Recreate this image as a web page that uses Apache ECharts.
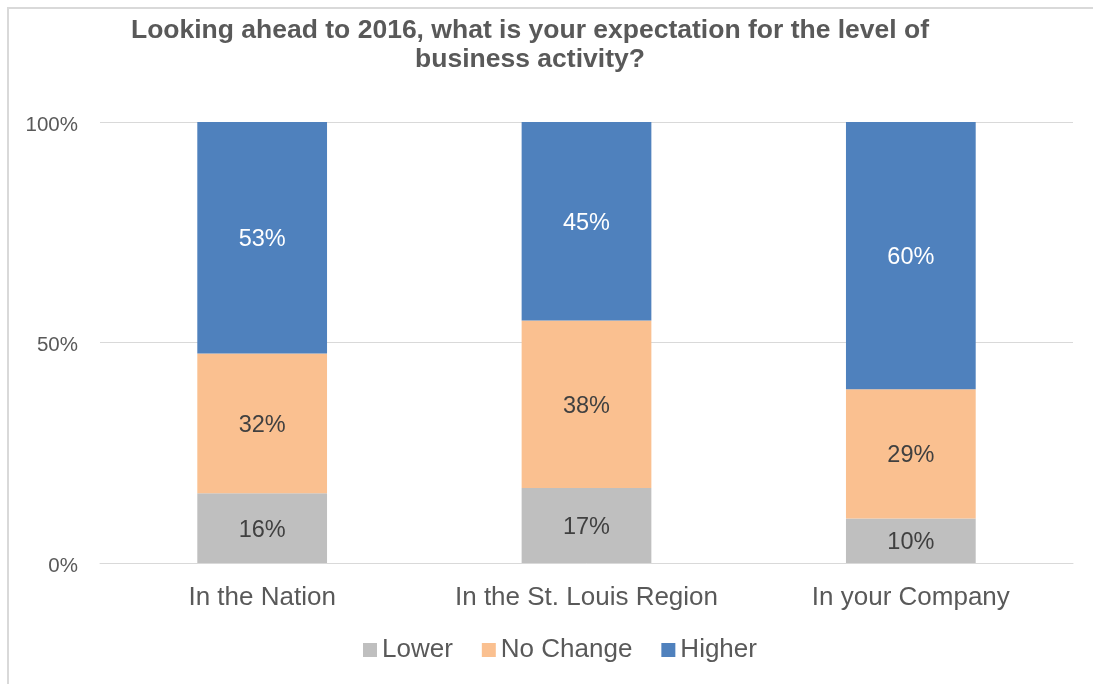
<!DOCTYPE html>
<html><head><meta charset="utf-8">
<script src="https://cdn.jsdelivr.net/npm/echarts@6/dist/echarts.min.js"></script>
<style>html,body{margin:0;padding:0;background:#fff}#c{width:1093px;height:684px}</style>
</head><body><div id="c"></div>
<script>
const categories = ['In the Nation', 'In the St. Louis Region', 'In your Company'];
const lower = [16, 17, 10];
const noChange = [32, 38, 29];
const higher = [53, 45, 60];
const seriesNames = ['Lower', 'No Change', 'Higher'];
const yTicks = [0, 50, 100];

const totals = categories.map((_, i) => lower[i] + noChange[i] + higher[i]);
const norm = arr => arr.map((v, i) => ({ value: v / totals[i] * 100, raw: v }));

const font = '"Liberation Sans", Arial, sans-serif';
const colors = ['#BFBFBF', '#FAC090', '#4F81BD'];
const raws = [lower, noChange, higher];

const chart = echarts.init(document.getElementById('c'), null, { renderer: 'canvas' });
chart.setOption({
  animation: false,
  title: {
    text: 'Looking ahead to 2016, what is your expectation for the level of\nbusiness activity?',
    left: 525, top: 11, textAlign: 'center',
    textStyle: { fontFamily: font, fontSize: 26.5, fontWeight: 'bold', color: '#595959', lineHeight: 29 }
  },
  graphic: [{ type: 'rect', shape: { x: 8, y: 8, width: 1200, height: 800 }, style: { fill: 'none', stroke: '#D9D9D9', lineWidth: 2 }, silent: true }],
  legend: {
    top: 632, left: 358, itemWidth: 14, itemHeight: 14, itemGap: 29,
    icon: 'rect',
    textStyle: { fontFamily: font, fontSize: 26, color: '#595959' },
    data: seriesNames
  },
  grid: { left: 100, right: 20, top: 122, bottom: 121 },
  xAxis: {
    type: 'category', data: categories,
    axisLine: { lineStyle: { color: '#D9D9D9', width: 1 } },
    axisTick: { show: false },
    axisLabel: { fontFamily: font, fontSize: 26, color: '#595959', margin: 22, interval: 0, hideOverlap: false }
  },
  yAxis: {
    type: 'value', min: 0, max: 100, interval: 50,
    axisLabel: { fontFamily: font, fontSize: 20.5, color: '#595959', margin: 22,
      formatter: v => yTicks.includes(v) ? '{a|' + v + '%}' : '',
      rich: { a: { fontFamily: font, fontSize: 20.5, color: '#595959', padding: [6, 0, 0, 0] } } },
    splitLine: { lineStyle: { color: '#D9D9D9', width: 1 } },
    axisLine: { show: false }, axisTick: { show: false }
  },
  series: seriesNames.map((name, k) => ({
    name, type: 'bar', stack: 'total', barCategoryGap: '60%',
    data: norm(raws[k]),
    itemStyle: { color: colors[k] },
    label: {
      show: true, position: 'inside', offset: [0, 2],
      fontFamily: font, fontSize: 23.5,
      color: k === 2 ? '#FFFFFF' : '#404040',
      formatter: p => p.data.raw + '%'
    }
  }))
});
</script></body></html>
